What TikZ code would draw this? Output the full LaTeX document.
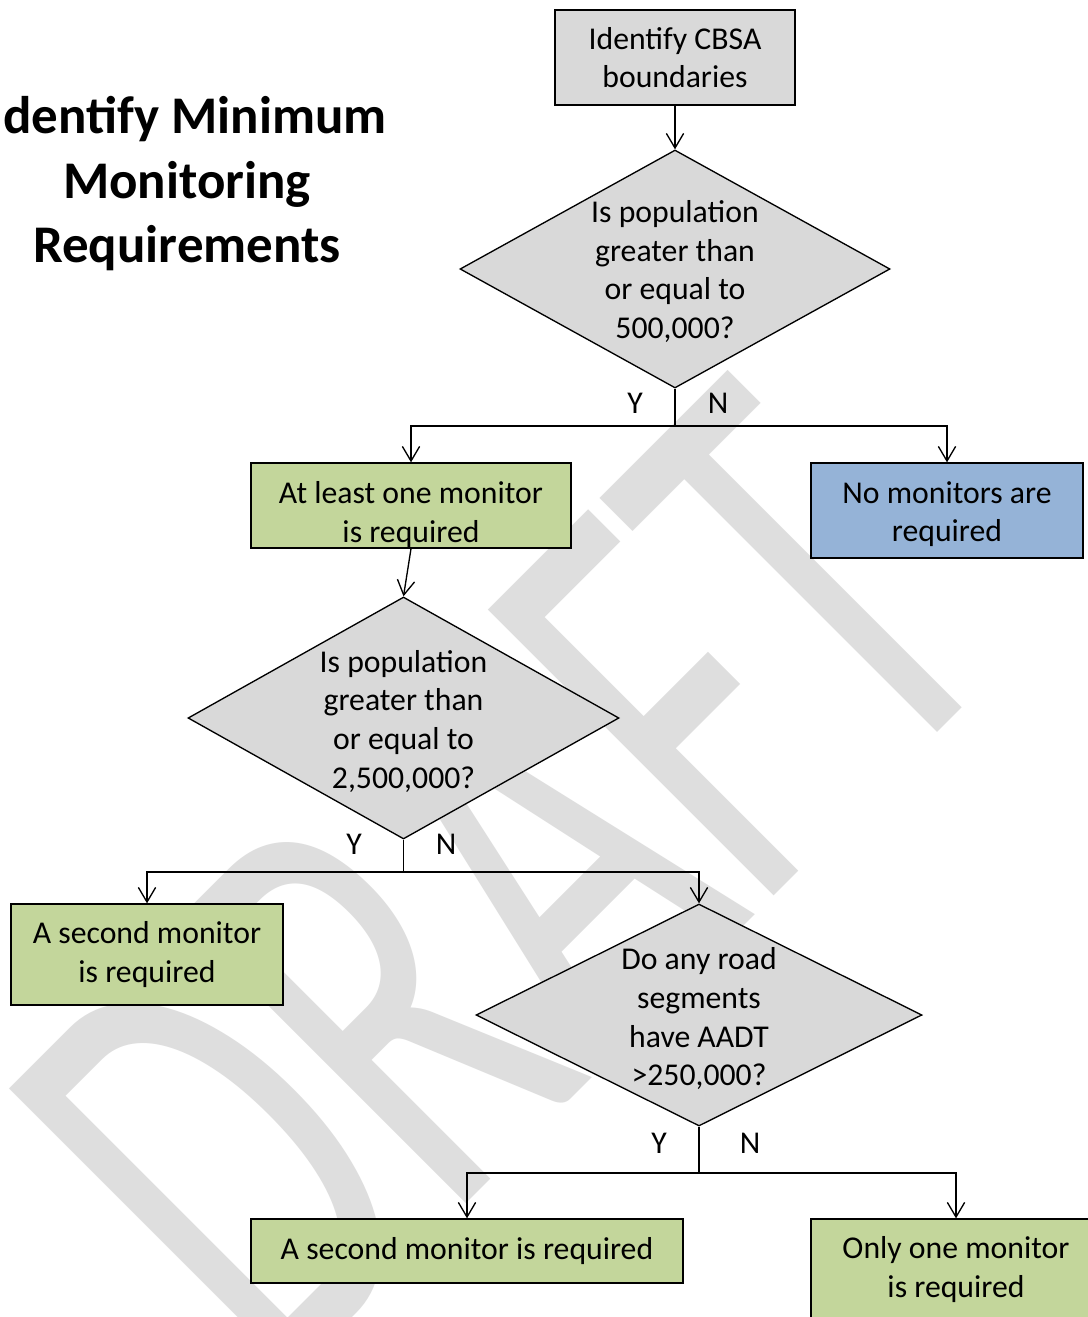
\documentclass[tikz,border=0pt]{standalone}
\usepackage{fontspec}
\usepackage{graphicx}
\setmainfont{Carlito}
\usetikzlibrary{arrows.meta,shapes.geometric}
\definecolor{boxgray}{HTML}{D9D9D9}
\definecolor{boxgreen}{HTML}{C3D69B}
\definecolor{boxblue}{HTML}{95B3D7}
\definecolor{wmgray}{HTML}{DEDEDE}
\newcommand{\twolines}[3]{\raisebox{#1}[0pt][0pt]{\begin{tabular}[t]{@{}c@{}}#2\\#3\end{tabular}}}
\begin{document}
\begin{tikzpicture}[x=0.75pt,y=-0.75pt,
  txt/.style={font=\fontsize{23.8}{29}\selectfont, align=center, inner sep=0pt},
  box/.style={draw, line width=1pt, txt},
  dia/.style={diamond, draw, fill=boxgray, line width=1pt, inner sep=0pt},
  link/.style={line width=1pt},
  arr/.style={line width=1pt, -{Straight Barb[length=11pt,width=13pt]}},
  ttl/.style={font=\fontsize{39.7}{48}\selectfont\bfseries, inner sep=0pt, anchor=base},
  wm/.style={text=wmgray, font=\fontsize{315}{315}\selectfont, inner sep=0pt}
]
\useasboundingbox (0,0) rectangle (1088,1317);
\fill[white] (0,0) rectangle (1088,1317);
\clip (0,0) rectangle (1088,1317);

% watermark
\node[wm, rotate=45, anchor=base west] (wmark) at (276,1394) {\scalebox{0.93}[1.5]{DRAFT}};

% title
\node[ttl] (ttl1) at (195,133) {dentify Minimum};
\node[ttl] (ttl2) at (187,198) {Monitoring};
\node[ttl] (ttl3) at (187,262) {Requirements};

% nodes
\node[box, fill=boxgray, minimum width=180pt, minimum height=71.25pt] (b1) at (675,57.5) {Identify CBSA\\boundaries};
\node[dia, minimum width=322.5pt, minimum height=178.5pt] (d1) at (675,269) {};
\node[txt, yshift=-2pt] (t1) at (d1.center) {Is population\\greater than\\or equal to\\500,000?};
\node[box, fill=boxgreen, minimum width=240pt, minimum height=63.75pt] (b2) at (411,505.5) {\twolines{1.6pt}{At least one monitor}{is required}};
\node[box, fill=boxblue, minimum width=204pt, minimum height=71.25pt] (b3) at (947,510.5) {\twolines{5.4pt}{No monitors are}{required}};
\node[dia, minimum width=323.25pt, minimum height=181.5pt] (d2) at (403.5,718) {};
\node[txt, yshift=-2.5pt] (t2) at (d2.center) {Is population\\greater than\\or equal to\\2,500,000?};
\node[box, fill=boxgreen, minimum width=204pt, minimum height=75.75pt] (b4) at (147,954.5) {A second monitor\\is required};
\node[dia, minimum width=334.5pt, minimum height=166.5pt] (d3) at (699,1015) {};
\node[txt, yshift=-2.8pt] (t3) at (d3.center) {Do any road\\segments\\have AADT\\>250,000?};
\node[box, fill=boxgreen, minimum width=324pt, minimum height=48pt] (b5) at (467,1251) {A second monitor is required};
\node[box, fill=boxgreen, minimum width=217.5pt, minimum height=75.75pt] (b6) at (956,1269.5) {Only one monitor\\is required};

% Y/N labels
\node[txt] (y1) at (635,403) {Y};
\node[txt] (n1) at (718,403) {N};
\node[txt] (y2) at (354,844) {Y};
\node[txt] (n2) at (446,844) {N};
\node[txt] (y3) at (659,1143) {Y};
\node[txt] (n3) at (750,1143) {N};

% connectors
\coordinate (j1) at (675,426);
\coordinate (j2) at (403.5,872);
\coordinate (j3) at (699,1173);
\draw[arr] (b1.south) -- (d1.north);
\draw[link] (d1.south) -- (j1);
\draw[arr] (j1) -| (b2.north);
\draw[arr] (j1) -| (b3.north);
\draw[arr] (b2.south) -- (d2.north);
\draw[link] (d2.south) -- (j2);
\draw[arr] (j2) -| (b4.north);
\draw[arr] (j2) -| (d3.north);
\draw[link] (d3.south) -- (j3);
\draw[arr] (j3) -| (b5.north);
\draw[arr] (j3) -| (b6.north);
\end{tikzpicture}
\end{document}
